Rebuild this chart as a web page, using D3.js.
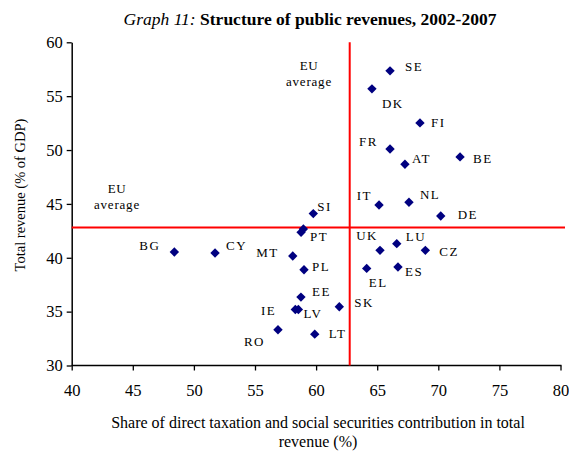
<!DOCTYPE html>
<html>
<head>
<meta charset="utf-8">
<script src="https://cdn.jsdelivr.net/npm/d3@7"></script>
<style>
  body { margin: 0; background: #fff; }
  svg text { font-family: "Liberation Serif", "Times New Roman", serif; }
</style>
</head>
<body>
<svg id="chart" width="569" height="452"></svg>
<script>
// ---- data ----
const countries = ["SE","DK","FI","FR","AT","BE","IT","NL","SI","DE","PT","HU","UK","LU","CZ","PL","ES","EL","EE","SK","IE","LV","LT","BG","CY","MT","RO"];
const shareDirect = [66.05,64.57,68.5,66.05,67.27,71.78,65.15,67.6,59.77,70.2,58.77,58.96,65.23,66.6,68.94,59.01,66.7,64.14,58.76,61.9,58.3,58.55,59.89,48.4,51.73,58.09,56.88];
const totalRevenue = [57.35,55.68,52.52,50.1,48.68,49.36,44.9,45.15,44.1,43.88,42.36,42.67,40.69,41.31,40.69,38.89,39.14,39.01,36.35,35.45,35.2,35.2,32.91,40.53,40.44,40.16,33.32];
const showLabel = [1,1,1,1,1,1,1,1,1,1,1,0,1,1,1,1,1,1,1,1,1,1,1,1,1,1,1];
const euAvgShare = 62.75;
const euAvgRevenue = 42.8;
const xTicks = [40,45,50,55,60,65,70,75,80];
const yTicks = [30,35,40,45,50,55,60];
const titleItalic = "Graph 11:";
const titleBold = "Structure of public revenues, 2002-2007";
const xTitle = ["Share of direct taxation and social securities contribution in total", "revenue (%)"];
const yTitle = "Total revenue (% of GDP)";

// label placement (pixel offsets from the marker; anchor)
const labelPos = {
  SE:[15,0,"start"], DK:[10,19,"start"], FI:[11,4,"start"], FR:[-12,-3,"end"],
  AT:[7,-1,"start"], BE:[13,6,"start"], IT:[-7,-5,"end"], NL:[11,-3,"start"],
  SI:[4,-3,"start"], DE:[17,3,"start"], PT:[9,9,"start"], UK:[-2,-10,"end"],
  LU:[9,-3,"start"], CZ:[14,6,"start"], PL:[8,1,"start"], ES:[7,9,"start"],
  EL:[2,19,"start"], EE:[11,-1,"start"], SK:[15,0,"start"], LV:[5,9,"start"],
  LT:[14,4,"start"], BG:[-14,-2,"end"], CY:[11,-3,"start"], MT:[-14,1,"end"],
  IE:[-19,6,"end"], RO:[-13,16,"end"]
};

const FONT = "Liberation Serif";
const svg = d3.select("#chart");
const x = d3.scaleLinear().domain([40,80]).range([71.7,560.5]);
const y = d3.scaleLinear().domain([30,60]).range([365.5,42.3]);

// title
const t = svg.append("text").attr("x", 310).attr("y", 25).attr("text-anchor","middle")
  .attr("font-family", FONT).attr("font-size", 17.5).attr("fill","#000");
t.append("tspan").attr("font-style","italic").text(titleItalic + " ");
t.append("tspan").attr("font-weight","bold").text(titleBold);

// axes
const xAxis = d3.axisBottom(x).tickValues(xTicks).tickSize(5).tickPadding(14).tickSizeOuter(0).tickFormat(d3.format("d"));
const gx = svg.append("g").attr("transform", `translate(0,${y(30)})`).call(xAxis).attr("font-family", FONT);
gx.select(".domain").attr("stroke","#000").attr("stroke-width",1.5).attr("d", `M${x(40)},0H${x(80)+1}`);
gx.selectAll("line").attr("stroke","#000").attr("stroke-width",1.3);
gx.selectAll("text").attr("font-size",16.5).attr("font-family",FONT).attr("fill","#000");

const yAxis = d3.axisLeft(y).tickValues(yTicks).tickSize(5).tickPadding(4).tickSizeOuter(0).tickFormat(d3.format("d"));
const gy = svg.append("g").attr("transform", `translate(${x(40)},0)`).call(yAxis).attr("font-family", FONT);
gy.select(".domain").attr("stroke","#000").attr("stroke-width",1.5);
gy.selectAll("line").attr("stroke","#000").attr("stroke-width",1.3);
gy.selectAll("text").attr("font-size",16.5).attr("font-family",FONT).attr("fill","#000");

// axis titles
svg.append("text").attr("x", 318).attr("y", 428).attr("text-anchor","middle").attr("font-family",FONT).attr("font-size",16).text(xTitle[0]);
svg.append("text").attr("x", 318).attr("y", 447).attr("text-anchor","middle").attr("font-family",FONT).attr("font-size",16).text(xTitle[1]);
svg.append("text").attr("transform","translate(25,195) rotate(-90)").attr("text-anchor","middle").attr("font-family",FONT).attr("font-size",14.5).text(yTitle);

// EU average lines
svg.append("line").attr("x1", x(euAvgShare)).attr("x2", x(euAvgShare)).attr("y1", y(60)).attr("y2", y(30))
  .attr("stroke","#ff0000").attr("stroke-width",2);
svg.append("line").attr("x1", x(40)).attr("x2", 565).attr("y1", y(euAvgRevenue)).attr("y2", y(euAvgRevenue))
  .attr("stroke","#ff0000").attr("stroke-width",2);

// EU average annotations
function euLabel(cx, by) {
  svg.append("text").attr("x", cx).attr("y", by).attr("text-anchor","middle").attr("font-family",FONT).attr("font-size",13).attr("letter-spacing",0.5).text("EU");
  svg.append("text").attr("x", cx).attr("y", by+16).attr("text-anchor","middle").attr("font-family",FONT).attr("font-size",13).attr("letter-spacing",0.8).text("average");
}
euLabel(309, 70);
euLabel(117, 193);

// points
const diamond = d3.symbol().type(d3.symbolSquare).size(44);
const pts = countries.map((c,i)=>({c, xv: shareDirect[i], yv: totalRevenue[i], show: showLabel[i]}));
svg.append("g").selectAll("path").data(pts).join("path")
  .attr("d", diamond)
  .attr("transform", d => `translate(${x(d.xv)},${y(d.yv)}) rotate(45)`)
  .attr("fill", "#000080");

svg.append("g").selectAll("text").data(pts.filter(d=>d.show)).join("text")
  .attr("x", d => x(d.xv) + labelPos[d.c][0])
  .attr("y", d => y(d.yv) + labelPos[d.c][1])
  .attr("text-anchor", d => labelPos[d.c][2])
  .attr("font-family", FONT)
  .attr("font-size", 13).attr("letter-spacing", 1.5).attr("fill","#000")
  .text(d => d.c);
</script>
</body>
</html>
